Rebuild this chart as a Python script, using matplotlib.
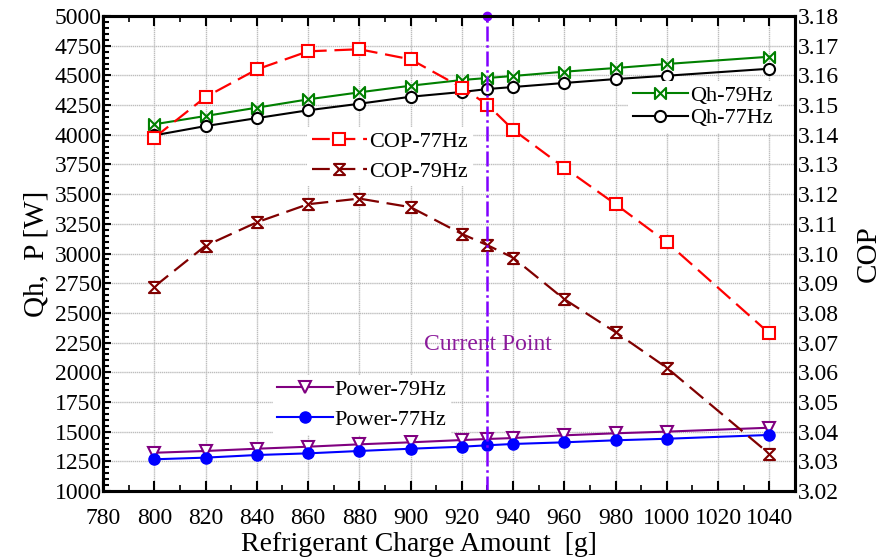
import numpy as np
import matplotlib
matplotlib.use('Agg')
import matplotlib.pyplot as plt
from matplotlib.path import Path
from matplotlib.ticker import MultipleLocator

plt.rcParams['font.family'] = ['Liberation Serif', 'DejaVu Serif']
plt.rcParams['mathtext.fontset'] = 'stix'

charge = [800, 820, 840, 860, 880, 900, 920, 930, 940, 960, 980, 1000, 1040]

qh_79 = [4088, 4158, 4228, 4298, 4357, 4413, 4461, 4478, 4495, 4531, 4562, 4596, 4657]
qh_77 = [3995, 4073, 4140, 4206, 4261, 4320, 4360, 4385, 4402, 4436, 4469, 4497, 4556]
power_79 = [1322, 1337, 1356, 1373, 1393, 1410, 1429, 1438, 1446, 1469, 1486, 1500, 1533]
power_77 = [1267, 1281, 1303, 1317, 1337, 1356, 1373, 1385, 1396, 1410, 1427, 1440, 1472]
cop_77 = [3.1390, 3.1527, 3.1620, 3.1681, 3.1688, 3.1654, 3.1559, 3.1501, 3.1417,
          3.1289, 3.1166, 3.1038, 3.0731]
cop_79 = [3.0888, 3.1026, 3.1105, 3.1166, 3.1185, 3.1156, 3.1066, 3.1028, 3.0986,
          3.0846, 3.0735, 3.0615, 3.0325]

current_point = 930

# custom markers
bowtie = Path([(-1, -1), (-1, 1), (1, -1), (1, 1), (-1, -1)],
              [Path.MOVETO, Path.LINETO, Path.LINETO, Path.LINETO, Path.CLOSEPOLY])
hourglass = Path([(-1, 1), (1, 1), (-1, -1), (1, -1), (-1, 1)],
                 [Path.MOVETO, Path.LINETO, Path.LINETO, Path.LINETO, Path.CLOSEPOLY])

fig = plt.figure(figsize=(8.82, 5.6), dpi=100)
ax = fig.add_axes([103 / 882, 1 - 491 / 560, 692 / 882, 475 / 560])
ax2 = ax.twinx()

ax.set_xlim(780, 1050)
ax.set_ylim(1000, 5000)
ax2.set_ylim(3.02, 3.18)

ax.xaxis.set_major_locator(MultipleLocator(20))
ax.xaxis.set_minor_locator(MultipleLocator(10))
ax.yaxis.set_major_locator(MultipleLocator(250))
ax.yaxis.set_minor_locator(MultipleLocator(50))
ax2.yaxis.set_major_locator(MultipleLocator(0.01))
ax2.yaxis.set_major_formatter(matplotlib.ticker.FormatStrFormatter('%.2f'))

ax.grid(True, which='major', color='#bdbdbd', lw=1.0, ls=(0, (1, 0.5)))
ax.set_axisbelow(True)

ax.tick_params(axis='both', which='both', direction='in', top=True, labelsize=17)
ax.tick_params(axis='x', which='major', length=7, width=1.5, pad=12)
ax.tick_params(axis='x', which='minor', length=4, width=1.2)
ax.tick_params(axis='y', which='major', length=6, width=1.5, pad=1)
ax.tick_params(axis='y', which='minor', length=4, width=1.5)
ax2.tick_params(axis='y', direction='in', length=0, labelsize=17, pad=2)

for a in (ax, ax2):
    for s in a.spines.values():
        s.set_linewidth(2.2)

ax.set_xlabel('Refrigerant Charge Amount  [g]', fontsize=20)
ax.xaxis.set_label_coords(0.457, -0.086)
ax.set_ylabel('Qh,  P [W]', fontsize=21, labelpad=4)
ax2.set_ylabel('COP', fontsize=21, labelpad=12)

# Qh and power on left axis
l_qh79, = ax.plot(charge, qh_79, color='green', lw=1.5, marker=bowtie, ms=8,
                  mfc='white', mec='green', mew=1.5, label='Qh-79Hz')
l_qh77, = ax.plot(charge, qh_77, color='black', lw=1.5, marker='o', ms=8,
                  mfc='white', mec='black', mew=1.5, label='Qh-77Hz')
l_p79, = ax.plot(charge, power_79, color='purple', lw=1.5, marker='v', ms=9,
                 mfc='white', mec='purple', mew=1.5, label='Power-79Hz')
l_p77, = ax.plot(charge, power_77, color='blue', lw=1.5, marker='o', ms=8,
                 mfc='blue', mec='blue', label='Power-77Hz')

# COP on right axis
l_c77, = ax2.plot(charge, cop_77, color='red', lw=1.6, ls=(0, (8, 3.5)), marker='s',
                  ms=9, mfc='white', mec='red', mew=1.5, label='COP-77Hz')
l_c79, = ax2.plot(charge, cop_79, color='#800000', lw=1.6, ls=(0, (8, 3.5)),
                  marker=hourglass, ms=8, mfc='white', mec='#800000', mew=1.5,
                  label='COP-79Hz')

# current point marker
ax2.axvline(current_point, color='#8000ff', lw=1.8, ls=(0, (6, 1.5, 1, 1.5)))
ax.plot(current_point, 5000, 'o', color='#8000ff', ms=6, clip_on=False, zorder=10)
ax.text(current_point, 2230, 'Current Point', color='#8b1a9b', fontsize=17,
        ha='center', va='center')

leg_kw = dict(fontsize=16, frameon=True, facecolor='white', edgecolor='none',
              framealpha=1, fancybox=False, handlelength=2.5, handletextpad=0.1,
              borderpad=0.2, borderaxespad=0)
leg1 = ax2.legend(handles=[l_qh79, l_qh77], loc='upper left', labelspacing=0.1,
                  bbox_to_anchor=(0.759, 0.864), **leg_kw)
ax2.add_artist(leg1)
leg2 = ax2.legend(handles=[l_c77, l_c79], loc='upper left', labelspacing=0.4,
                  bbox_to_anchor=(0.295, 0.766), **leg_kw)
ax2.add_artist(leg2)
leg3 = ax2.legend(handles=[l_p79, l_p77], loc='upper left', labelspacing=0.45,
                  bbox_to_anchor=(0.245, 0.245), **leg_kw)

fig.savefig('out.png', dpi=100)
